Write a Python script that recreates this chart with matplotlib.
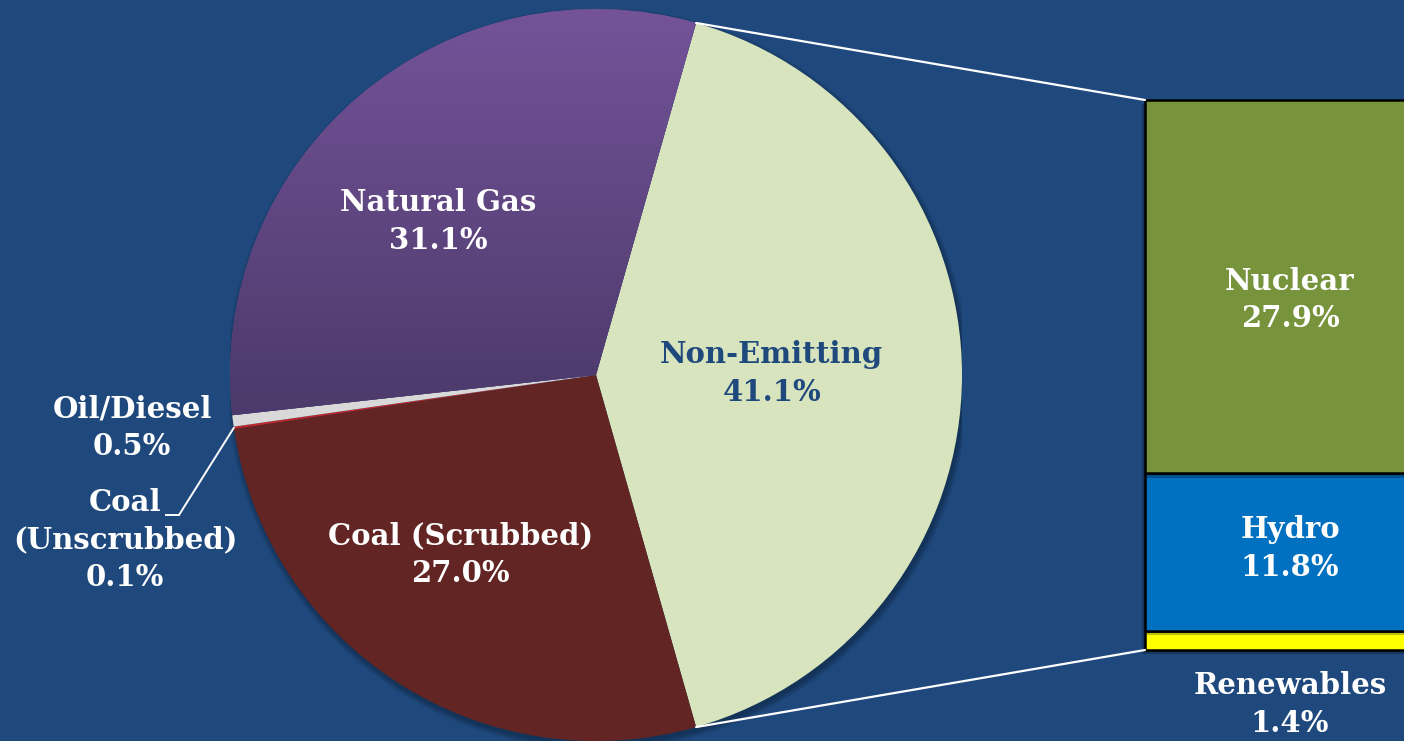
import matplotlib.pyplot as plt
import matplotlib.patheffects as pe
import numpy as np
from matplotlib.colors import LinearSegmentedColormap
from matplotlib.patches import ConnectionPatch, Ellipse

# === Data ===
pie_labels = ["Non-Emitting", "Coal (Scrubbed)", "Coal\n(Unscrubbed)", "Oil/Diesel", "Natural Gas"]
pie_values = [41.1, 27.0, 0.1, 0.5, 31.1]
pie_colors = ["#d7e4bd", "#632523", "#c0282d", "#d9d9d9", "#634887"]

bar_labels = ["Renewables", "Hydro", "Nuclear"]
bar_values = [1.4, 11.8, 27.9]
bar_colors = ["#ffff00", "#0070c0", "#77933c"]

BG = "#1f497d"
FS = 21
LS = 1.38

plt.rcParams.update({
    "font.family": ["DejaVu Serif"],
    "font.weight": "bold",
})

W, H = 1404, 741
fig = plt.figure(figsize=(W / 100, H / 100), dpi=100)
fig.patch.set_facecolor(BG)

def px_box(x0, y0, x1, y1):
    # pixel box (top-left origin) -> figure fraction rect
    return [x0 / W, 1 - y1 / H, (x1 - x0) / W, (y1 - y0) / H]

# === Pie ===
ax_pie = fig.add_axes(px_box(230, 9, 962, 741))
total = sum(pie_values)
start = 360 * pie_values[0] / total / 2

# soft shadow behind the pie
for k in range(6):
    ax_pie.add_patch(Ellipse((0.005, -0.01), 2 + 0.006 * k, 2 + 0.006 * k,
                             color="black", alpha=0.05, lw=0, zorder=0))

wedges, _ = ax_pie.pie(pie_values, colors=pie_colors, startangle=start,
                       counterclock=False, radius=1,
                       wedgeprops=dict(linewidth=0))

# purple gradient on natural gas
grad = np.linspace(0, 1, 256).reshape(-1, 1)
img = ax_pie.imshow(grad, extent=(-1, 1, -1, 1), origin="lower", aspect="auto",
                    cmap=LinearSegmentedColormap.from_list("ng", ["#3f2f5c", "#4f3c6e", "#745399"]),
                    zorder=wedges[4].get_zorder() + 0.1)
img.set_clip_path(wedges[4])
ax_pie.set_xlim(-1, 1)
ax_pie.set_ylim(-1, 1)
ax_pie.set_aspect("auto")
ax_pie.axis("off")

inner = [(0.48, 0.005), (-0.37, -0.49), (-0.43, 0.42)]
txt_colors = [BG, "white", "white"]
for (x, y), i, c in zip(inner, [0, 1, 4], txt_colors):
    ax_pie.text(x, y, f"{pie_labels[i]}\n{pie_values[i]:.1f}%", ha="center", va="center",
                color=c, fontsize=FS, fontweight="bold", linespacing=LS, zorder=5)

# === Bar ===
ax_bar = fig.add_axes(px_box(1145, 100, 1404, 650))
ax_bar.set_xlim(0, 1)
ax_bar.set_ylim(0, sum(bar_values))
ax_bar.axis("off")
bottoms = np.concatenate([[0], np.cumsum(bar_values)[:-1]])
bars = ax_bar.bar(np.zeros(len(bar_values)), bar_values, bottom=bottoms, width=1.5,
                  align="edge", color=bar_colors, edgecolor="black", linewidth=1.8)
for b in bars:
    b.set_clip_on(False)
    b.set_path_effects([pe.SimplePatchShadow(offset=(-2, -3), shadow_rgbFace="black", alpha=0.25),
                        pe.Normal()])

bar_text_y = [-4.1, bottoms[1] + bar_values[1] / 2 + 0.3, bottoms[2] + bar_values[2] / 2 - 1.0]
for lab, v, y in zip(bar_labels, bar_values, bar_text_y):
    ax_bar.text(0.56, y, f"{lab}\n{v:.1f}%", ha="center", va="center", color="white",
                fontsize=FS, fontweight="bold", linespacing=LS, clip_on=False)

# connector lines pie -> bar
edges = [np.deg2rad(start), np.deg2rad(start - 360 * pie_values[0] / total)]
for ang, yb in zip(edges, [sum(bar_values), 0]):
    con = ConnectionPatch(xyA=(np.cos(ang), np.sin(ang)), coordsA="data", axesA=ax_pie,
                          xyB=(0, yb), coordsB="data", axesB=ax_bar,
                          color="white", linewidth=1.6)
    fig.add_artist(con)

# === Outside labels ===
ax_txt = fig.add_axes([0, 0, 1, 1])
ax_txt.set_xlim(0, W)
ax_txt.set_ylim(H, 0)
ax_txt.axis("off")
ax_txt.patch.set_alpha(0)

ax_txt.text(132, 428, f"{pie_labels[3]}\n{pie_values[3]:.1f}%", ha="center", va="center",
            color="white", fontsize=FS, fontweight="bold", linespacing=LS)
ax_txt.text(125, 540, f"{pie_labels[2]}\n{pie_values[2]:.1f}%", ha="center", va="center",
            color="white", fontsize=FS, fontweight="bold", linespacing=LS)

# leader line from unscrubbed coal wedge
th = np.deg2rad(start - 360 * (sum(pie_values[:2]) + pie_values[2] / 2) / total)
leader = ConnectionPatch(xyA=(np.cos(th), np.sin(th)), coordsA="data", axesA=ax_pie,
                         xyB=(179, 515), coordsB="data", axesB=ax_txt,
                         color="white", linewidth=1.4)
fig.add_artist(leader)
ax_txt.plot([166, 179], [515, 515], color="white", linewidth=1.4)

fig.savefig("out.png", dpi=100, facecolor=BG)
